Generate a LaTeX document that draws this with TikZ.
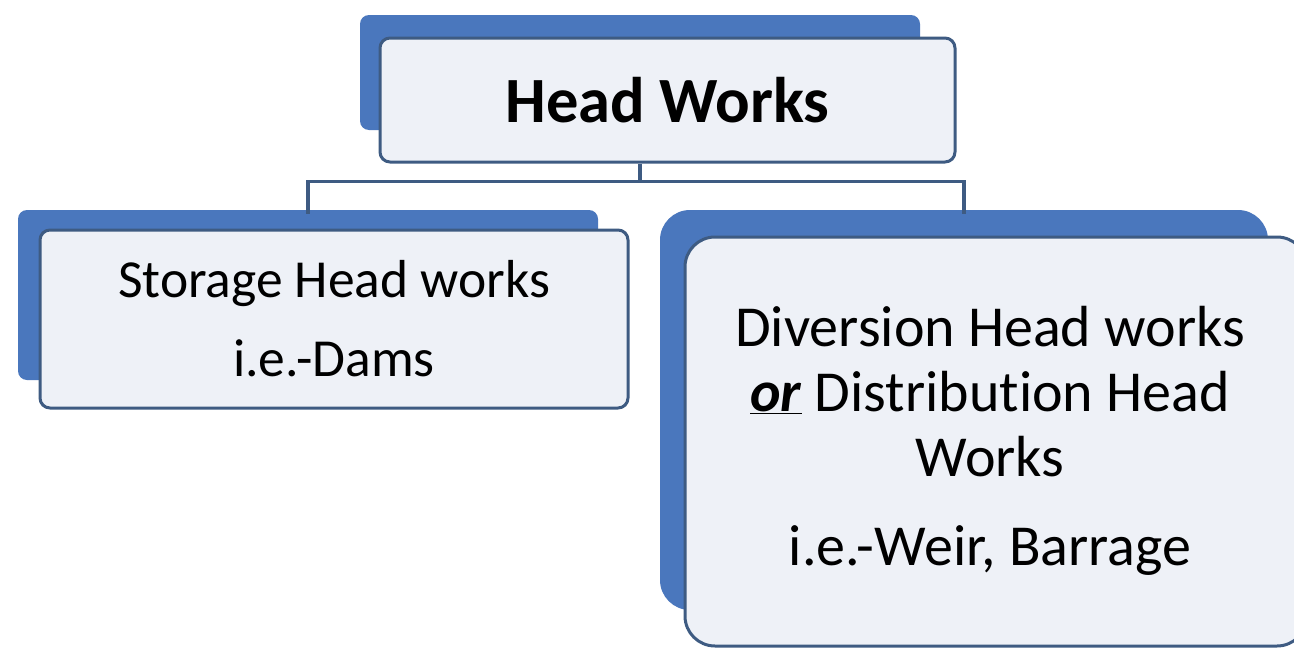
\documentclass[tikz,border=0pt]{standalone}
\usepackage{fontspec}
\setmainfont{Carlito}[Ligatures=NoCommon]
\definecolor{backblue}{HTML}{4A77BD}
\definecolor{rimblue}{HTML}{3E5B82}
\definecolor{paleface}{HTML}{EEF1F7}
\tikzset{
  backbox/.style={fill=backblue,draw=none,rounded corners=9pt,inner sep=0pt},
  frontbox/.style={fill=paleface,draw=rimblue,line width=3pt,rounded corners=10pt,inner sep=0pt,align=center},
  busline/.style={draw=rimblue,line width=3.5pt}
}
\begin{document}
\begin{tikzpicture}[x=1pt,y=-1pt]
\useasboundingbox[fill=white] (0,0) rectangle (1294,648);
% top box
\node[backbox,minimum width=560pt,minimum height=115pt] (tback) at (640,72.5) {};
\node[frontbox,minimum width=575pt,minimum height=124pt,font=\fontsize{64.5}{70}\selectfont\bfseries] (top) at (667.5,100) {Head Works};
% left box
\node[backbox,minimum width=580pt,minimum height=170pt] (lback) at (308,295) {};
\node[frontbox,minimum width=588pt,minimum height=178pt,font=\fontsize{53.5}{63}\selectfont] (left) at (334,319) {Storage Head works\\[16pt] i.e.-Dams};
% right box
\node[backbox,rounded corners=30pt,minimum width=608pt,minimum height=400pt] (rback) at (964,410) {};
\node[frontbox,rounded corners=30pt,minimum width=622pt,minimum height=409pt,font=\fontsize{58}{65}\selectfont] (right) at (996,441.5) {};
\node[align=center,font=\fontsize{58}{65}\selectfont] (rtext) at (990,441) {Diversion Head works\\ \underline{\textbf{\textit{or}}} Distribution Head\\ Works\\[24pt] i.e.-Weir, Barrage};
% connectors
\draw[busline] (top.south -| tback.center) -- ++(0,18) coordinate (bus);
\draw[busline] (bus) -| ([yshift=-4pt]lback.north);
\draw[busline] (bus) -| ([yshift=-4pt]rback.north);
\end{tikzpicture}
\end{document}
